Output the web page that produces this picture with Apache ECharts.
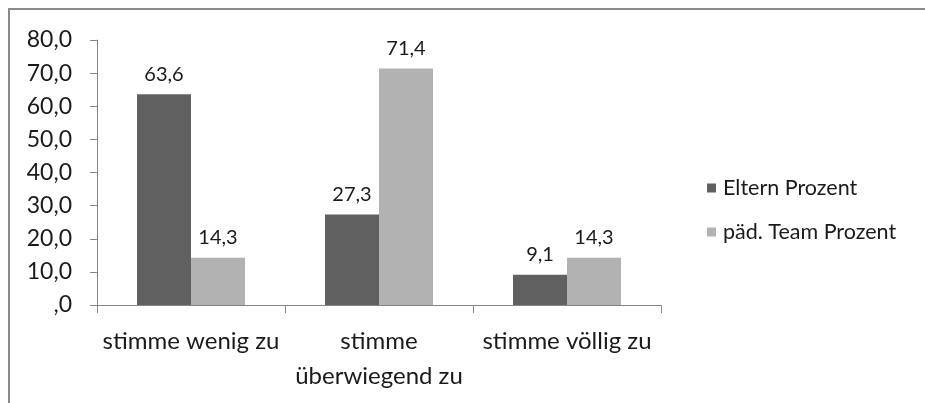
<!DOCTYPE html>
<html>
<head>
<meta charset="utf-8">
<script src="https://cdn.jsdelivr.net/npm/echarts@6/dist/echarts.min.js"></script>
<style>
  html, body { margin: 0; padding: 0; background: #fff; }
  #chart { width: 925px; height: 403px; }
</style>
</head>
<body>
<div id="chart"></div>
<script>
var categories = ['stimme wenig zu', 'stimme\nüberwiegend zu', 'stimme völlig zu'];
var elternValues = [63.6, 27.3, 9.1];
var teamValues = [14.3, 71.4, 14.3];
var seriesNames = ['Eltern Prozent', 'päd. Team Prozent'];

var FONT = 'Lato, "Open Sans", sans-serif';

// Excel style number: 0 -> ",0", 63.6 -> "63,6"
function fmt(v) {
    var s = v.toFixed(1).replace('.', ',');
    if (s.indexOf('0,') === 0) s = s.substring(1);
    return s;
}

var chart = echarts.init(document.getElementById('chart'));

var labelStyle = {
    show: true,
    position: 'top',
    distance: 10,
    fontFamily: FONT,
    fontSize: 20,
    color: '#1a1a1a',
    formatter: function (p) { return fmt(p.value); }
};

var option = {
    animation: false,
    backgroundColor: '#fff',
    graphic: [{
        type: 'rect',
        shape: { x: 9, y: 9, width: 960, height: 440 },
        style: { fill: 'none', stroke: '#8a8a8a', lineWidth: 2 },
        silent: true
    }],
    grid: { left: 97, right: 264, top: 40, bottom: 98 },
    legend: {
        orient: 'vertical',
        left: 702,
        top: 172,
        itemWidth: 9,
        itemHeight: 9,
        itemGap: 22,
        icon: 'rect',
        textStyle: { fontFamily: FONT, fontSize: 21.5, color: '#1a1a1a', padding: [0, 0, 0, 2] },
        data: seriesNames
    },
    xAxis: {
        type: 'category',
        data: categories,
        axisLine: { lineStyle: { color: '#868686', width: 1 } },
        axisTick: { show: true, length: 8, lineStyle: { color: '#868686' } },
        axisLabel: {
            fontFamily: FONT,
            fontSize: 24,
            color: '#1a1a1a',
            margin: 19,
            lineHeight: 35,
            interval: 0
        }
    },
    yAxis: {
        type: 'value',
        min: 0,
        max: 80,
        interval: 10,
        splitLine: { show: false },
        axisLine: { show: true, lineStyle: { color: '#868686', width: 1 } },
        axisTick: { show: true, length: 7, lineStyle: { color: '#868686' } },
        axisLabel: {
            fontFamily: FONT,
            fontSize: 23,
            color: '#1a1a1a',
            margin: 25,
            formatter: function (v) { return fmt(v); }
        }
    },
    series: [{
        name: seriesNames[0],
        type: 'bar',
        data: elternValues,
        barWidth: 54,
        barGap: '0%',
        itemStyle: { color: '#606060' },
        label: labelStyle
    }, {
        name: seriesNames[1],
        type: 'bar',
        data: teamValues,
        barWidth: 54,
        itemStyle: { color: '#b2b2b2' },
        label: labelStyle
    }]
};

chart.setOption(option);
</script>
</body>
</html>
